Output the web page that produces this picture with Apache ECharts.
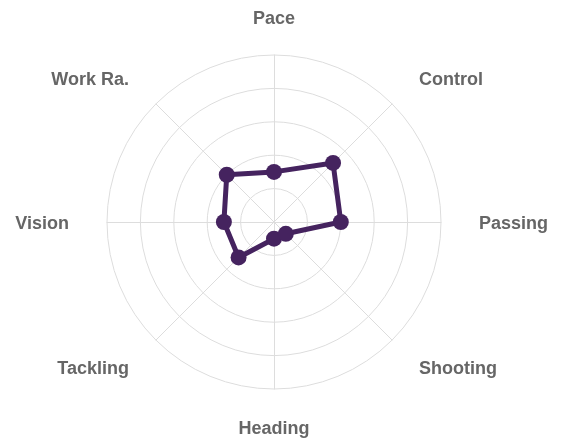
<!DOCTYPE html>
<html>
<head>
<meta charset="utf-8">
<script src="https://cdn.jsdelivr.net/npm/echarts@6/dist/echarts.min.js"></script>
<style>
html,body{margin:0;padding:0;background:#fff;}
#main{width:563px;height:439px;}
</style>
</head>
<body>
<div id="main"></div>
<script>
// Indicators in ECharts order (counter-clockwise from top)
var categories = ['Pace', 'Work Ra.', 'Vision', 'Tackling', 'Heading', 'Shooting', 'Passing', 'Control'];
var values = [30, 40, 30, 30, 10, 10, 40, 50];
var maxValue = 100;

var chart = echarts.init(document.getElementById('main'));
chart.setOption({
  animation: false,
  radar: {
    center: [274, 222],
    radius: 167,
    startAngle: 90,
    shape: 'circle',
    splitNumber: 5,
    nameGap: 38,
    indicator: categories.map(function (c) { return { name: c, max: maxValue, min: 0 }; }),
    axisName: {
      color: '#666666',
      fontFamily: 'Liberation Sans, Arial, sans-serif',
      fontWeight: 'bold',
      fontSize: 18,
      verticalAlign: 'middle',
      formatter: function (name) { return '{a|' + name + '}'; },
      rich: {
        a: {
          color: '#666666',
          fontFamily: 'Liberation Sans, Arial, sans-serif',
          fontWeight: 'bold',
          fontSize: 18,
          padding: [5, 0, 0, 0]
        }
      }
    },
    splitLine: { lineStyle: { color: '#dddddd', width: 1 } },
    axisLine: { lineStyle: { color: '#dddddd', width: 1 } },
    splitArea: { show: false },
    axisTick: { show: false },
    axisLabel: { show: false }
  },
  series: [{
    type: 'radar',
    symbol: 'circle',
    symbolSize: 16,
    lineStyle: { color: '#45235f', width: 5 },
    itemStyle: { color: '#45235f' },
    data: [{ value: values, name: 'Player' }]
  }]
});
</script>
</body>
</html>
